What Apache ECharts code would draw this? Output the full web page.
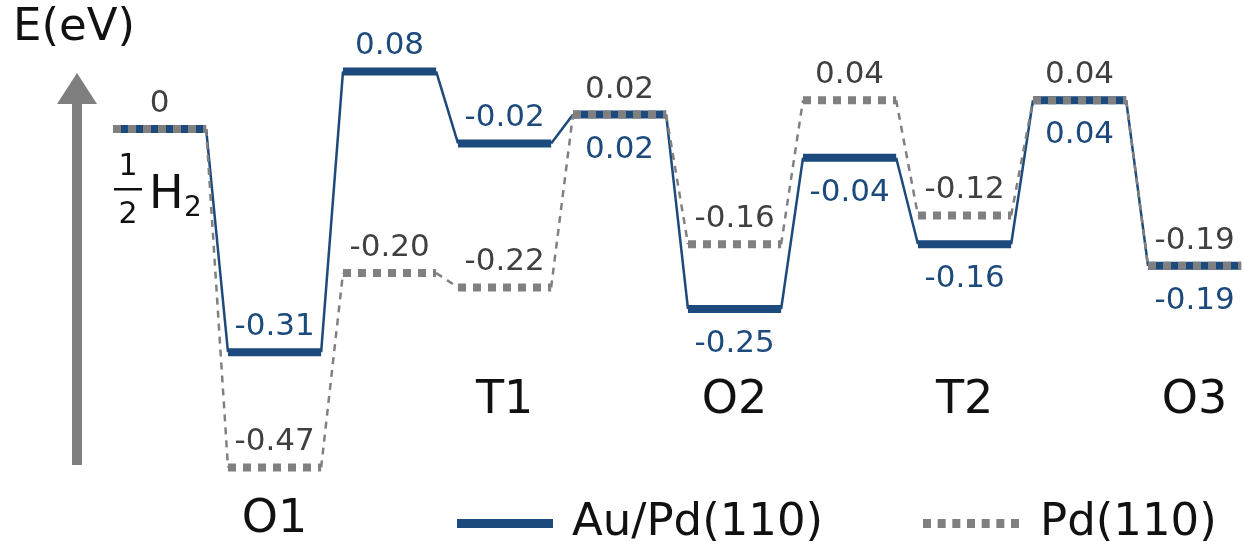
<!DOCTYPE html>
<html><head><meta charset="utf-8">
<script src="https://cdn.jsdelivr.net/npm/echarts@6/dist/echarts.min.js"></script>
<style>html,body{margin:0;padding:0;background:#fff}#c{width:1244px;height:542px}</style>
</head><body><div id="c"></div>
<script>
// ---- data ----
const states = ['1/2 H2', 'O1', 'TS', 'T1', 'TS', 'O2', 'TS', 'T2', 'TS', 'O3'];
const stateLabels = ['', 'O1', '', 'T1', '', 'O2', '', 'T2', '', 'O3'];
const auValues = [0, -0.31, 0.08, -0.02, 0.02, -0.25, -0.04, -0.16, 0.04, -0.19];
const pdValues = [0, -0.47, -0.20, -0.22, 0.02, -0.16, 0.04, -0.12, 0.04, -0.19];
const auLabels = ['', '-0.31', '0.08', '-0.02', '0.02', '-0.25', '-0.04', '-0.16', '0.04', '-0.19'];
const pdLabels = ['0', '-0.47', '-0.20', '-0.22', '0.02', '-0.16', '0.04', '-0.12', '0.04', '-0.19'];
const seriesNames = ['Au/Pd(110)', 'Pd(110)'];
const yAxisTitle = 'E(eV)';

// ---- layout / style ----
const NAVY = '#1d4a7c', GRAY = '#808080', LGRAY = '#404040', BLACK = '#111';
const FONT = 'DejaVu Sans';
const LW = 0.81; // level width (in step units)
const auSide = [null, 'top', 'top', 'top', 'bottom', 'bottom', 'bottom', 'bottom', 'bottom', 'bottom'];
const pdSide = ['top', 'top', 'top', 'top', 'top', 'top', 'top', 'top', 'top', 'top'];

function levelSeries(name, values, labels, sides, color, textColor, dashed) {
  return {
    type: 'custom', name: name, coordinateSystem: 'cartesian2d',
    itemStyle: { color: color },
    data: values.map((v, i) => [i, v]),
    renderItem: function (params, api) {
      const i = params.dataIndex, y = values[i];
      const a = api.coord([i, y]), b = api.coord([i + LW, y]);
      const ch = [];
      if (i < values.length - 1) {
        const n = api.coord([i + 1, values[i + 1]]);
        ch.push({ type: 'line', shape: { x1: b[0], y1: b[1], x2: n[0], y2: n[1] },
          style: { stroke: color, lineWidth: 2.5, lineDash: dashed ? [7, 6] : null } });
      }
      ch.push({ type: 'line', shape: { x1: a[0], y1: a[1], x2: b[0], y2: b[1] },
        style: { stroke: color, lineWidth: 8, lineDash: dashed ? [8, 7] : null, lineCap: 'butt' } });
      if (sides[i] && labels[i]) {
        const cx = (a[0] + b[0]) / 2;
        const ty = sides[i] === 'top' ? a[1] - 25 : a[1] + 35;
        ch.push({ type: 'text', x: cx, y: ty,
          style: { text: labels[i], fill: textColor, fontFamily: FONT, fontSize: 31, align: 'center', verticalAlign: 'middle' } });
      }
      return { type: 'group', children: ch };
    }
  };
}

const chart = echarts.init(document.getElementById('c'), null, { renderer: 'canvas' });
const option = {
  animation: false,
  grid: { left: 113, right: 0, top: 21, bottom: 53, containLabel: false },
  xAxis: { type: 'value', min: 0, max: 1131 / 115, show: false },
  yAxis: { type: 'value', min: -0.5, max: 0.15, show: false },
  legend: [
    { data: [{ name: seriesNames[0], icon: 'rect', itemStyle: { color: NAVY } }],
      left: 452, top: 496, itemWidth: 96, itemHeight: 9,
      textStyle: { fontFamily: FONT, fontSize: 45, color: BLACK, padding: [0, 0, 0, 14] } },
    { data: [{ name: seriesNames[1], icon: 'path://M0 0h8v9h-8zM14.67 0h8v9h-8zM29.33 0h8v9h-8zM44 0h8v9h-8zM58.67 0h8v9h-8zM73.33 0h8v9h-8zM88 0h8v9h-8z', itemStyle: { color: GRAY } }],
      left: 918, top: 496, itemWidth: 96, itemHeight: 9,
      textStyle: { fontFamily: FONT, fontSize: 45, color: BLACK, padding: [0, 0, 0, 16] } }
  ],
  series: [
    levelSeries(seriesNames[0], auValues, auLabels, auSide, NAVY, NAVY, false),
    levelSeries(seriesNames[1], pdValues, pdLabels, pdSide, GRAY, LGRAY, true),
    {
      type: 'custom', name: 'states', coordinateSystem: 'cartesian2d', silent: true,
      data: states.map((s, i) => [i, 0]),
      renderItem: function (params, api) {
        const i = params.dataIndex;
        if (!stateLabels[i]) return null;
        const a = api.coord([i + LW / 2, 0]);
        return { type: 'text', x: a[0], y: i === 1 ? 520 : 401,
          style: { text: stateLabels[i], fill: BLACK, fontFamily: FONT, fontSize: 46, align: 'center', verticalAlign: 'middle' } };
      }
    }
  ]
};
chart.setOption(option);

// decorations: energy arrow, axis title, 1/2 H2 label anchored to the first level
const p0 = chart.convertToPixel({ gridIndex: 0 }, [0, auValues[0]]);
chart.setOption({
  graphic: [
    { type: 'rect', shape: { x: 72, y: 100, width: 10, height: 365 }, style: { fill: '#7f7f7f' } },
    { type: 'polygon', shape: { points: [[57, 104], [97, 104], [77, 73]] }, style: { fill: '#7f7f7f' } },
    { type: 'text', x: 13, y: 28, style: { text: yAxisTitle, fill: BLACK, fontFamily: FONT, fontSize: 45, align: 'left', verticalAlign: 'middle' } },
    { type: 'text', x: p0[0] + 15, y: p0[1] + 38, style: { text: '1', fill: BLACK, fontFamily: FONT, fontSize: 30, align: 'center', verticalAlign: 'middle' } },
    { type: 'rect', shape: { x: p0[0] + 1, y: p0[1] + 59, width: 28, height: 2.5 }, style: { fill: BLACK } },
    { type: 'text', x: p0[0] + 15, y: p0[1] + 86, style: { text: '2', fill: BLACK, fontFamily: FONT, fontSize: 30, align: 'center', verticalAlign: 'middle' } },
    { type: 'text', x: p0[0] + 36, y: p0[1] + 67, style: { text: 'H', fill: BLACK, fontFamily: FONT, fontSize: 46, align: 'left', verticalAlign: 'middle' } },
    { type: 'text', x: p0[0] + 71, y: p0[1] + 80, style: { text: '2', fill: BLACK, fontFamily: FONT, fontSize: 28, align: 'left', verticalAlign: 'middle' } }
  ]
});
</script>
</body></html>
